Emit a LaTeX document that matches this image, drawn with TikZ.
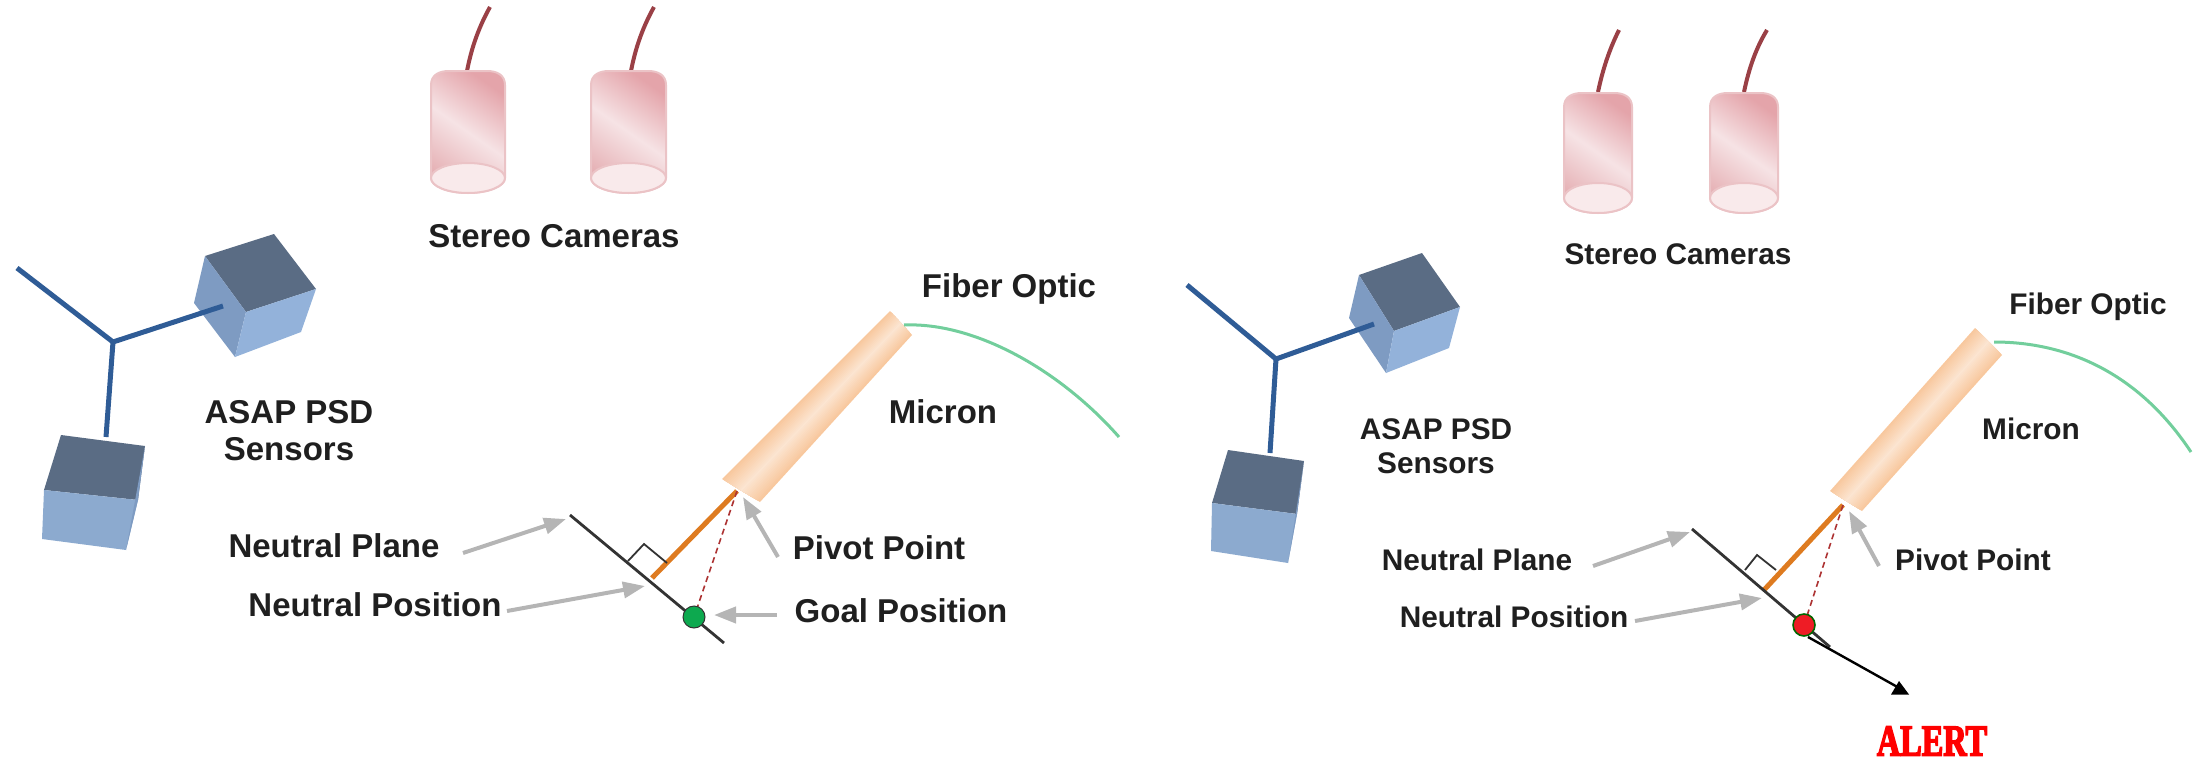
\documentclass[tikz,border=0pt]{standalone}
\usepackage{fontspec}
\setmainfont{Liberation Sans}
\newfontfamily\alertfont{Liberation Serif}[BoldFeatures={FakeBold=4}]
\usetikzlibrary{arrows.meta,calc}
\definecolor{stickblue}{HTML}{2F5C96}
\definecolor{cubetop}{HTML}{5A6C84}
\definecolor{cubeleft}{HTML}{7E9BC2}
\definecolor{cuberight}{HTML}{93B2DA}
\definecolor{cubefront}{HTML}{8CAACF}
\definecolor{cablered}{HTML}{9A4046}
\definecolor{fibergreen}{HTML}{72CE9C}
\definecolor{stemorange}{HTML}{DE7B20}
\definecolor{arrowgray}{HTML}{B5B5B5}
\definecolor{planeblack}{HTML}{333333}
\definecolor{camedge}{HTML}{EBC3C6}
\definecolor{camdark}{HTML}{E4A4AA}
\definecolor{camlow}{HTML}{E6B2B6}
\definecolor{camlight}{HTML}{F6E3E5}
\definecolor{camlens}{HTML}{F9EAEB}
\definecolor{micedge}{HTML}{F8C89E}
\definecolor{miclight}{HTML}{FCE6D3}
\definecolor{goalgreen}{HTML}{0DA94F}
\definecolor{alertred}{HTML}{FF0000}
\definecolor{dotred}{HTML}{EE1C25}
\tikzset{
  lefttext/.style={font=\bfseries\fontsize{33}{36}\selectfont,text=black!88,inner sep=0pt,align=center},
  righttext/.style={font=\bfseries\fontsize{29.8}{33}\selectfont,text=black!88,inner sep=0pt,align=center},
  cable/.style={draw=cablered,line width=4pt},
  stick/.style={draw=stickblue,line width=5pt},
  fiber/.style={draw=fibergreen,line width=3pt},
  stem/.style={draw=stemorange,line width=5pt},
  goalline/.style={draw=red!60!black!80,line width=1.6pt,dash pattern=on 6pt off 4pt},
  plane/.style={draw=planeblack,line width=2.8pt},
  square/.style={draw=planeblack,line width=1.8pt},
  grayarrow/.style={draw=arrowgray,line width=4pt,-{Triangle[length=22pt,width=16pt]}},
  blackline/.style={draw=black,line width=2.4pt},
}
\newcommand{\camcyl}[4]{% x0,x1,top,bottom
  \pgfmathsetmacro{\cx}{(#1+#2)/2}\pgfmathsetmacro{\rx}{(#2-#1)/2}
  \draw[draw=camedge,line width=2pt,top color=camdark,bottom color=camlow,middle color=camlight,shading angle=-35]
    (#1,#4-15) -- (#1,#3+14) .. controls (#1,#3+4) and (#1+8,#3) .. (#1+18,#3) -- (#2-18,#3) .. controls (#2-8,#3) and (#2,#3+4) .. (#2,#3+14) -- (#2,#4-15)
    arc[start angle=0,end angle=-180,x radius=\rx,y radius=-15] -- cycle;
  \draw[draw=camedge,line width=2pt,fill=camlens] (\cx,#4-15) ellipse[x radius=\rx,y radius=15];
}
% strip with lengthwise light centre: long sides #1-#4 and #2-#3
\newcommand{\micbody}[4]{%
  \foreach \t [evaluate=\t as \m using \t*200] in {0,0.04,...,0.48}{
    \colorlet{micnow}{miclight!\m!micedge}
    \fill[micnow] ($(#1)!\t!(#2)$) -- ($(#1)!{1-\t}!(#2)$) -- ($(#4)!{1-\t}!(#3)$) -- ($(#4)!\t!(#3)$) -- cycle;
  }
}
\begin{document}
\begin{tikzpicture}[x=1pt,y=-1pt]
\useasboundingbox (0,0) rectangle (2208,763);
% ---------- LEFT PANEL ----------
\draw[cable] (467,71) .. controls (472,45) and (480,25) .. (490,7);
\draw[cable] (631,71) .. controls (636,45) and (644,25) .. (654,7);
\camcyl{431}{505}{71}{193}
\camcyl{591}{666}{71}{193}
\node[lefttext] (stereoL) at (554,236) {Stereo Cameras};
% sensors
\fill[cubetop] (205,256) -- (274,234) -- (316,289) -- (246,312) -- cycle;
\fill[cubeleft] (205,256) -- (246,312) -- (235,357) -- (194,303) -- cycle;
\fill[cuberight] (246,312) -- (316,289) -- (301,332) -- (235,357) -- cycle;
\fill[cubetop] (61,435) -- (145,446) -- (138,500) -- (44,490) -- cycle;
\fill[cubefront] (44,490) -- (138,500) -- (126,550) -- (42,539) -- cycle;
\fill[cubeleft] (145,446) -- (138,500) -- (126,550) -- cycle;
\coordinate (hubL) at (113,342);
\coordinate (armAL) at (17,268);
\coordinate (armBL) at (223,306);
\coordinate (armCL) at (106,437);
\draw[stick] (armAL) -- (hubL) -- (armBL);
\draw[stick] (hubL) -- (armCL);
\node[lefttext] (asapL) at (289,431) {ASAP PSD\\[1pt]Sensors};
% micron
\coordinate (pivotL) at (737,491);
\coordinate (neutL) at (652,578);
\coordinate (goalL) at (694,617);
\coordinate (mAL) at (890,311); \coordinate (mBL) at (912,335);
\coordinate (mCL) at (760,502); \coordinate (mDL) at (722,479);
\micbody{mAL}{mBL}{mCL}{mDL}
\draw[fiber] (904,325) .. controls (975,322) and (1060,370) .. (1119,437);
\draw[stem] (pivotL) -- (neutL);
\draw[goalline] (pivotL) -- (goalL);
\coordinate (planeAL) at (570,515);
\coordinate (planeBL) at (724,643);
\draw[plane] (planeAL) -- (planeBL);
\draw[square] (628,561) -- (644,544) -- (667,563);
\node[circle,draw=planeblack,line width=1pt,fill=goalgreen,minimum size=22pt,inner sep=0pt] (dotL) at (goalL) {};
\node[lefttext] (microL) at (943,412) {Micron};
\node[lefttext] (fiberL) at (1009,289) {Fiber Optic};
\node[lefttext] (npL) at (334,546) {Neutral Plane};
\node[lefttext] (nposL) at (375,605) {Neutral Position};
\node[lefttext] (ppL) at (879,548) {Pivot Point};
\node[lefttext] (gpL) at (901,611) {Goal Position};
\coordinate (a1L) at (463,553); \coordinate (b1L) at (566,519);
\coordinate (a2L) at (507,611); \coordinate (b2L) at (645,586);
\coordinate (a3L) at (778,557); \coordinate (b3L) at (743,497);
\coordinate (a4L) at (777,615); \coordinate (b4L) at (714,615);
\draw[grayarrow] (a1L) -- (b1L);
\draw[grayarrow] (a2L) -- (b2L);
\draw[grayarrow] (a3L) -- (b3L);
\draw[grayarrow] (a4L) -- (b4L);
% ---------- RIGHT PANEL ----------
\draw[cable] (1598,92) .. controls (1603,68) and (1610,48) .. (1619,30);
\draw[cable] (1744,92) .. controls (1749,68) and (1756,48) .. (1767,30);
\camcyl{1564}{1632}{93}{213}
\camcyl{1710}{1778}{93}{213}
\node[righttext] (stereoR) at (1678,254) {Stereo Cameras};
\fill[cubetop] (1359,275) -- (1422,253) -- (1460,307) -- (1394,331) -- cycle;
\fill[cubeleft] (1359,275) -- (1394,331) -- (1386,373) -- (1349,318) -- cycle;
\fill[cuberight] (1394,331) -- (1460,307) -- (1449,348) -- (1386,373) -- cycle;
\fill[cubetop] (1228,450) -- (1304,461) -- (1297,514) -- (1212,503) -- cycle;
\fill[cubefront] (1212,503) -- (1297,514) -- (1288,563) -- (1211,551) -- cycle;
\fill[cubeleft] (1304,461) -- (1297,514) -- (1288,563) -- cycle;
\coordinate (hubR) at (1276,359);
\coordinate (armAR) at (1187,285);
\coordinate (armBR) at (1374,324);
\coordinate (armCR) at (1270,453);
\draw[stick] (armAR) -- (hubR) -- (armBR);
\draw[stick] (hubR) -- (armCR);
\node[righttext] (asapR) at (1436,446) {ASAP PSD\\[1pt]Sensors};
\coordinate (pivotR) at (1843,505);
\coordinate (neutR) at (1764,590);
\coordinate (goalR) at (1804,625);
\coordinate (mAR) at (1975,328); \coordinate (mBR) at (2002,355);
\coordinate (mCR) at (1862,511); \coordinate (mDR) at (1830,491);
\micbody{mAR}{mBR}{mCR}{mDR}
\draw[fiber] (1994,342) .. controls (2070,342) and (2140,375) .. (2191,452);
\draw[stem] (pivotR) -- (neutR);
\draw[goalline] (pivotR) -- (goalR);
\coordinate (planeAR) at (1692,529);
\coordinate (planeBR) at (1830,647);
\draw[plane] (planeAR) -- (planeBR);
\draw[square] (1745,570) -- (1757,555) -- (1776,570);
\node[circle,draw=green!40!black,line width=1.6pt,fill=dotred,minimum size=22pt,inner sep=0pt] (dotR) at (goalR) {};
\node[righttext] (microR) at (2031,429) {Micron};
\node[righttext] (fiberR) at (2088,307) {Fiber Optic};
\node[righttext] (npR) at (1477,560) {Neutral Plane};
\node[righttext] (nposR) at (1514,617) {Neutral Position};
\node[righttext] (ppR) at (1973,560) {Pivot Point};
\coordinate (a1R) at (1593,566); \coordinate (b1R) at (1690,532);
\coordinate (a2R) at (1635,621); \coordinate (b2R) at (1762,598);
\coordinate (a3R) at (1879,566); \coordinate (b3R) at (1849,511);
\draw[grayarrow] (a1R) -- (b1R);
\draw[grayarrow] (a2R) -- (b2R);
\draw[grayarrow] (a3R) -- (b3R);
% alert connector with an upright triangular head
\coordinate (alertstart) at (1808,637);
\coordinate (alertend) at (1901,689);
\draw[blackline] (alertstart) -- (alertend);
\fill[black] (1891,694.5) -- (1909,694.5) -- (1899,681) -- cycle;
\node[inner sep=0pt,text=alertred] (alert) at (1932,741) {\scalebox{0.95}[1.3]{\alertfont\bfseries\fontsize{34}{36}\selectfont ALERT}};
\end{tikzpicture}
\end{document}
